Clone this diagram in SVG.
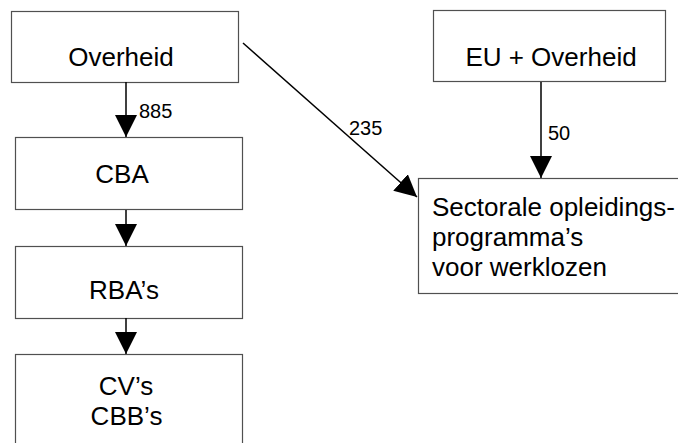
<svg xmlns="http://www.w3.org/2000/svg" width="678" height="443" viewBox="0 0 678 443">
<defs>
<style>
.box{fill:#fff;stroke:#505050;stroke-width:1.2}
.t{font-family:"Liberation Sans",Arial,sans-serif;font-size:26px;fill:#000}
.lbl{font-family:"Liberation Sans",Arial,sans-serif;font-size:20px;fill:#000}
.c{stroke:#000;stroke-width:1.5;fill:none}
</style>
<marker id="ah" markerUnits="userSpaceOnUse" markerWidth="22" markerHeight="22" viewBox="0 0 20 20" refX="20" refY="10" orient="auto">
<path d="M0,0 L20,10 L0,20 Z" fill="#000"/>
</marker>
</defs>
<rect width="678" height="443" fill="#fff"/>
<g id="overheid"><rect class="box" x="11.5" y="11.5" width="227" height="71"/><text class="t" x="121" y="66" text-anchor="middle">Overheid</text></g>
<g id="cba"><rect class="box" x="15.5" y="137.5" width="227" height="72"/><text class="t" x="122" y="183" text-anchor="middle">CBA</text></g>
<g id="rba"><rect class="box" x="15.5" y="246.5" width="227" height="72"/><text class="t" x="124" y="299" text-anchor="middle">RBA’s</text></g>
<g id="cv"><rect class="box" x="15.5" y="354.5" width="227" height="100"/><text class="t" x="126" y="395" text-anchor="middle">CV’s</text><text class="t" x="126.5" y="425" text-anchor="middle">CBB’s</text></g>
<g id="eu"><rect class="box" x="433.5" y="10.5" width="232" height="71"/><text class="t" x="551" y="66" text-anchor="middle">EU + Overheid</text></g>
<g id="sectorale"><rect class="box" x="418.5" y="178.5" width="280" height="115"/><text class="t" x="432" y="216" textLength="243" lengthAdjust="spacing">Sectorale opleidings-</text><text class="t" x="432" y="246">programma’s</text><text class="t" x="432" y="276">voor werklozen</text></g>
<g id="connectors">
<line class="c" x1="126" y1="82" x2="126" y2="137" marker-end="url(#ah)"/>
<line class="c" x1="126" y1="210" x2="126" y2="246" marker-end="url(#ah)"/>
<line class="c" x1="126" y1="318" x2="126" y2="354" marker-end="url(#ah)"/>
<line class="c" x1="541" y1="82" x2="541" y2="178" marker-end="url(#ah)"/>
<line class="c" x1="243" y1="43" x2="417" y2="197" marker-end="url(#ah)"/>
<text class="lbl" x="139" y="118">885</text>
<text class="lbl" x="349" y="135">235</text>
<text class="lbl" x="548" y="140">50</text>
</g>
</svg>
